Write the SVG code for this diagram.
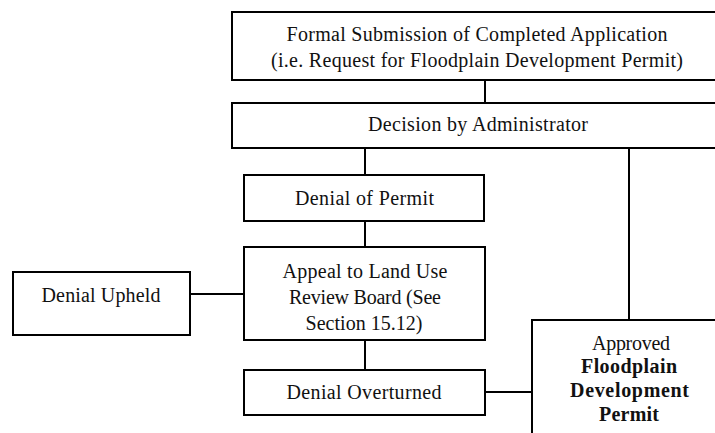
<svg xmlns="http://www.w3.org/2000/svg" width="715" height="433" viewBox="0 0 715 433">
  <style>
    .box { fill: #ffffff; stroke: #000000; stroke-width: 2; }
    .link { fill: none; stroke: #000000; stroke-width: 2; }
    .t { font-size: 20px; fill: #111111; text-anchor: middle; }
    .b { font-weight: bold; }
  </style>
  <rect width="715" height="433" fill="#ffffff"/>

  <!-- connectors -->
  <g id="connectors">
    <line class="link" x1="485" y1="80" x2="485" y2="103"/>
    <line class="link" x1="365" y1="148" x2="365" y2="175"/>
    <line class="link" x1="629" y1="148" x2="629" y2="320"/>
    <line class="link" x1="365" y1="221" x2="365" y2="247"/>
    <line class="link" x1="190" y1="294" x2="244" y2="294"/>
    <line class="link" x1="365" y1="340" x2="365" y2="370"/>
    <line class="link" x1="485" y1="392" x2="532" y2="392"/>
  </g>

  <g font-family="Liberation Serif, Times New Roman, serif">
    <g id="submission">
      <rect class="box" x="232" y="12" width="492" height="68"/>
      <text class="t" x="477" y="41" textLength="381" lengthAdjust="spacing">Formal Submission of Completed Application</text>
      <text class="t" x="477" y="67" textLength="412" lengthAdjust="spacing">(i.e. Request for Floodplain Development Permit)</text>
    </g>

    <g id="decision">
      <rect class="box" x="232" y="103" width="492" height="45"/>
      <text class="t" x="478" y="131" textLength="220" lengthAdjust="spacing">Decision by Administrator</text>
    </g>

    <g id="denial">
      <rect class="box" x="244" y="175" width="240" height="46"/>
      <text class="t" x="364.5" y="205" textLength="139" lengthAdjust="spacing">Denial of Permit</text>
    </g>

    <g id="appeal">
      <rect class="box" x="244" y="247" width="241" height="93"/>
      <text class="t" x="365" y="278" textLength="165" lengthAdjust="spacing">Appeal to Land Use</text>
      <text class="t" x="365" y="304" textLength="152" lengthAdjust="spacing">Review Board (See</text>
      <text class="t" x="364" y="329.5" textLength="117" lengthAdjust="spacing">Section 15.12)</text>
    </g>

    <g id="upheld">
      <rect class="box" x="13" y="272" width="177" height="63"/>
      <text class="t" x="101" y="302" textLength="119" lengthAdjust="spacing">Denial Upheld</text>
    </g>

    <g id="overturned">
      <rect class="box" x="244" y="370" width="241" height="45"/>
      <text class="t" x="364" y="399" textLength="155" lengthAdjust="spacing">Denial Overturned</text>
    </g>

    <g id="approved">
      <rect class="box" x="532" y="320" width="196" height="130"/>
      <text class="t" x="631" y="350" textLength="78" lengthAdjust="spacing">Approved</text>
      <text class="t b" x="629" y="373" textLength="96" lengthAdjust="spacing">Floodplain</text>
      <text class="t b" x="629.5" y="397" textLength="119" lengthAdjust="spacing">Development</text>
      <text class="t b" x="629" y="420.5" textLength="60" lengthAdjust="spacing">Permit</text>
    </g>
  </g>
</svg>
